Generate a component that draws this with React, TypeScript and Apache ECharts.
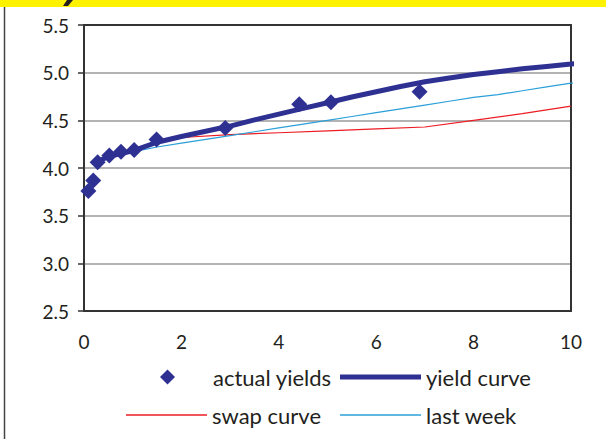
import React, { useEffect, useRef } from "react";
import * as echarts from "echarts";

// Maturity (years) and yield (%) of the observed bonds
const actualX = [0.09, 0.19, 0.28, 0.52, 0.76, 1.03, 1.49, 2.9, 4.42, 5.07, 6.89];
const actualY = [3.76, 3.87, 4.06, 4.13, 4.17, 4.19, 4.3, 4.42, 4.67, 4.69, 4.8];

// Fitted yield curve
const curveX = [0.25, 0.5, 1, 1.5, 2, 2.5, 3, 3.5, 4, 4.5, 5, 5.5, 6, 6.5, 7, 7.5, 8, 8.5, 9, 9.5, 10, 10.15];
const curveY = [4.06, 4.12, 4.18, 4.27, 4.33, 4.385, 4.44, 4.505, 4.565, 4.625, 4.685, 4.745, 4.8, 4.855, 4.905, 4.945, 4.98, 5.01, 5.04, 5.065, 5.09, 5.1];

// Swap curve
const swapX = [1, 1.5, 2, 3, 4, 5, 6, 7, 8, 9, 10];
const swapY = [4.19, 4.27, 4.32, 4.35, 4.37, 4.39, 4.41, 4.43, 4.5, 4.57, 4.65];

// Last week's curve
const lastX = [1, 1.5, 2, 2.5, 3, 3.5, 4, 4.5, 5, 5.5, 6, 6.5, 7, 7.5, 8, 8.5, 9, 9.5, 10, 10.15];
const lastY = [4.17, 4.22, 4.26, 4.3, 4.34, 4.38, 4.42, 4.46, 4.5, 4.54, 4.58, 4.62, 4.66, 4.7, 4.74, 4.77, 4.81, 4.85, 4.89, 4.89];

const pair = (xs: number[], ys: number[]) => xs.map((x, i) => [x, ys[i]]);

const NAVY = "#2e3192";
const RED = "#ed1c24";
const SKY = "#2b9fd9";
const INK = "#231f20";
const FONT = "Lato, 'DejaVu Sans', sans-serif";

export default function App() {
  const ref = useRef<HTMLDivElement>(null);

  useEffect(() => {
    if (!ref.current) return;
    const chart = echarts.init(ref.current, undefined, { renderer: "svg" });
    const legendText = { color: INK, fontSize: 22, fontFamily: FONT };
    const lineLegend = (name: string, left: number, top: number, h: number) => ({
      data: [{ name, icon: "rect" }],
      left,
      top,
      padding: 0,
      itemWidth: 81,
      itemHeight: h,
      itemGap: 6,
      textStyle: legendText,
      selectedMode: false,
    });
    chart.setOption({
      animation: false,
      backgroundColor: "#fff",
      grid: { left: 84, right: 35, top: 25, bottom: 128, containLabel: false },
      xAxis: [
        {
          type: "value",
          min: 0,
          max: 10,
          interval: 2,
          axisLine: { show: true, lineStyle: { color: "#333", width: 2 } },
          axisTick: { show: false },
          splitLine: { show: false },
          axisLabel: { color: INK, fontSize: 19, fontFamily: FONT, margin: 21 },
        },
        {
          type: "value",
          position: "top",
          min: 0,
          max: 10,
          axisLine: { show: true, onZero: false, lineStyle: { color: "#333", width: 2 } },
          axisTick: { show: false },
          axisLabel: { show: false },
          splitLine: { show: false },
        },
      ],
      yAxis: [
        {
          type: "value",
          min: 2.5,
          max: 5.5,
          interval: 0.5,
          axisLine: { show: true, onZero: false, lineStyle: { color: "#333", width: 2 } },
          axisTick: { show: true, length: 6, lineStyle: { color: "#333", width: 1.5 } },
          splitLine: { show: true, lineStyle: { color: "#b3b3b3", width: 2 } },
          axisLabel: {
            color: INK,
            fontSize: 19,
            fontFamily: FONT,
            margin: 15,
            formatter: (v: number) => v.toFixed(1),
          },
        },
        {
          type: "value",
          position: "right",
          min: 2.5,
          max: 5.5,
          interval: 0.5,
          axisLine: { show: true, onZero: false, lineStyle: { color: "#333", width: 2 } },
          axisTick: { show: false },
          axisLabel: { show: false },
          splitLine: { show: false },
        },
      ],
      legend: [
        {
          data: [{ name: "actual yields", icon: "diamond" }],
          left: 160,
          top: 366,
          padding: 0,
          itemWidth: 15,
          itemHeight: 15,
          itemGap: 6,
          textStyle: { ...legendText, padding: [0, 0, 0, 33] },
          selectedMode: false,
        },
        lineLegend("yield curve", 340, 366, 5),
        lineLegend("swap curve", 126, 404, 1.5),
        lineLegend("last week", 340, 404, 1.5),
      ],
      series: [
        {
          name: "swap curve",
          type: "line",
          data: pair(swapX, swapY),
          symbol: "none",
          clip: false,
          lineStyle: { color: RED, width: 1.2 },
          itemStyle: { color: RED },
          z: 2,
        },
        {
          name: "last week",
          type: "line",
          data: pair(lastX, lastY),
          symbol: "none",
          clip: false,
          lineStyle: { color: SKY, width: 1.2 },
          itemStyle: { color: SKY },
          z: 3,
        },
        {
          name: "yield curve",
          type: "line",
          data: pair(curveX, curveY),
          symbol: "none",
          clip: false,
          lineStyle: { color: NAVY, width: 5 },
          itemStyle: { color: NAVY },
          z: 4,
        },
        {
          name: "actual yields",
          type: "scatter",
          data: pair(actualX, actualY),
          symbol: "diamond",
          symbolSize: 16,
          clip: false,
          itemStyle: { color: NAVY, opacity: 1 },
          z: 5,
        },
      ],
      graphic: [
        { type: "rect", shape: { x: 0, y: 0, width: 606, height: 7 }, style: { fill: "#fff200" }, z: 10 },
        {
          type: "polygon",
          shape: { points: [[67, 0], [73, 0], [68, 6], [63, 6]] },
          style: { fill: "#231f20" },
          z: 11,
        },
        {
          type: "line",
          shape: { x1: 4.5, y1: 7, x2: 4.5, y2: 439 },
          style: { stroke: "#444", lineWidth: 1.5 },
          z: 10,
        },
      ],
    });
    return () => chart.dispose();
  }, []);

  return (
    <div
      ref={ref}
      style={{ position: "fixed", left: 0, top: 0, width: 606, height: 439 }}
    />
  );
}
